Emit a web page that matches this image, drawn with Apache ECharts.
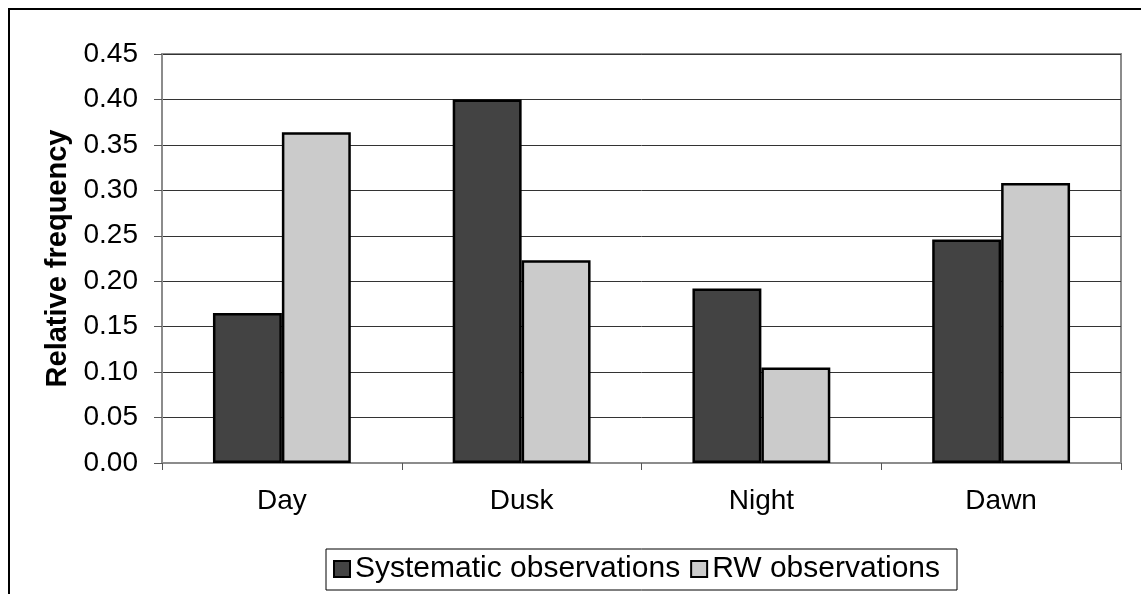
<!DOCTYPE html>
<html>
<head>
<meta charset="utf-8">
<script src="https://cdn.jsdelivr.net/npm/echarts@6/dist/echarts.min.js"></script>
<style>
  html, body { margin: 0; padding: 0; background: #fff; }
  #chart { width: 1141px; height: 594px; }
</style>
</head>
<body>
<div id="chart"></div>
<script>
// Time-of-day categories and relative frequencies of the two observation sets
const categories = ['Day', 'Dusk', 'Night', 'Dawn'];
const systematicValues = [0.165, 0.400, 0.192, 0.246];
const rwValues = [0.364, 0.223, 0.105, 0.308];
const seriesNames = ['Systematic observations', 'RW observations'];
const yTicks = { min: 0, max: 0.45, step: 0.05 };

const FONT = '"Liberation Sans", Arial, sans-serif';
const chart = echarts.init(document.getElementById('chart'), null, { renderer: 'canvas' });

chart.setOption({
  animation: false,
  backgroundColor: '#ffffff',
  textStyle: { fontFamily: FONT },
  graphic: [{
    type: 'rect',
    z: -10,
    shape: { x: 9, y: 9, width: 1300, height: 800 },
    style: { fill: 'none', stroke: '#000', lineWidth: 2 }
  }],
  grid: {
    left: 162, top: 54, right: 20, bottom: 131,
    show: true, borderColor: '#8c8c8c', borderWidth: 2, backgroundColor: 'transparent'
  },
  legend: {
    data: seriesNames,
    left: 326, top: 549,
    orient: 'horizontal',
    icon: 'rect',
    itemWidth: 16, itemHeight: 16,
    itemGap: 10,
    padding: [5, 17, 6, 7],
    backgroundColor: '#fff',
    borderColor: '#000',
    borderWidth: 1,
    textStyle: { fontFamily: FONT, fontSize: 30, color: '#000' }
  },
  xAxis: {
    type: 'category',
    data: categories,
    axisLine: { lineStyle: { color: '#8c8c8c', width: 2 } },
    axisTick: { show: true, alignWithLabel: false, length: 7, lineStyle: { color: '#555', width: 1 } },
    axisLabel: { fontFamily: FONT, fontSize: 28, color: '#000', margin: 24 },
    splitLine: { show: false }
  },
  yAxis: {
    type: 'value',
    min: yTicks.min, max: yTicks.max, interval: yTicks.step,
    name: 'Relative frequency',
    nameLocation: 'middle',
    nameRotate: 90,
    nameGap: 88,
    nameTextStyle: { fontFamily: FONT, fontSize: 29, fontWeight: 'bold', color: '#000' },
    axisLine: { show: true, lineStyle: { color: '#8c8c8c', width: 2 } },
    axisTick: { show: true, length: 8, lineStyle: { color: '#555', width: 1 } },
    axisLabel: {
      fontFamily: FONT, fontSize: 28, color: '#000', margin: 24,
      formatter: v => v.toFixed(2)
    },
    splitLine: { show: true, lineStyle: { color: '#333', width: 1 } }
  },
  series: [
    {
      name: seriesNames[0], type: 'bar', data: systematicValues,
      barGap: '0%', barCategoryGap: '42.5%',
      itemStyle: { color: '#434343', borderColor: '#000', borderWidth: 2.5 }
    },
    {
      name: seriesNames[1], type: 'bar', data: rwValues,
      barGap: '0%', barCategoryGap: '42.5%',
      itemStyle: { color: '#cbcbcb', borderColor: '#000', borderWidth: 2.5 }
    }
  ]
});
</script>
</body>
</html>
